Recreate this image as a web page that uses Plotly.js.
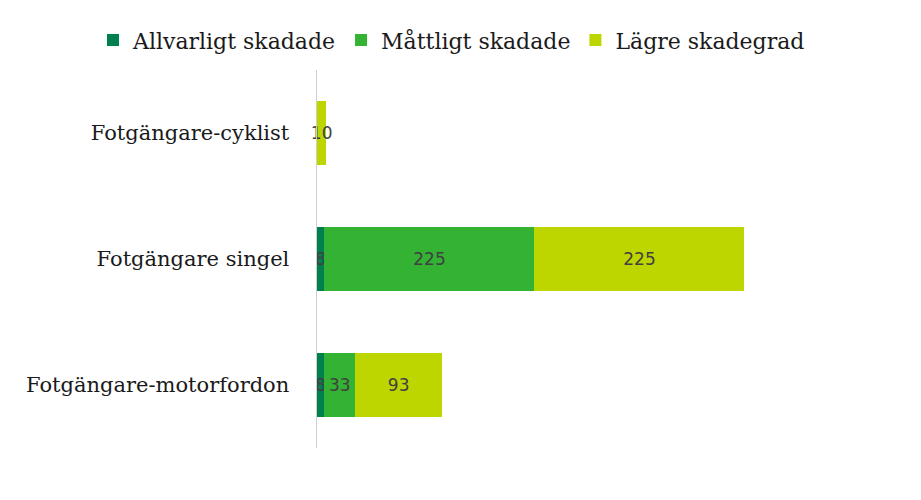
<!DOCTYPE html>
<html>
<head>
<meta charset="utf-8">
<script src="https://cdn.plot.ly/plotly-3.0.1.min.js"></script>
<style>html,body{margin:0;padding:0;background:#fff;}#chart{width:921px;height:500px;}</style>
</head>
<body>
<div id="chart"></div>
<script>
const categories = ["Fotgängare-cyklist", "Fotgängare singel", "Fotgängare-motorfordon"];
const seriesNames = ["Allvarligt skadade", "Måttligt skadade", "Lägre skadegrad"];
const allvarligt = [null, 8, 8];
const mattligt = [null, 225, 33];
const lagre = [10, 225, 93];
const colors = ["#00804F", "#33B233", "#BDD600"];

const values = [allvarligt, mattligt, lagre];
const traces = values.map((v, i) => ({
  type: "bar",
  orientation: "h",
  name: seriesNames[i],
  y: categories,
  x: v,
  marker: {color: colors[i]},
  text: v.map(d => d == null ? "" : String(d)),
  textposition: "inside",
  insidetextanchor: "middle",
  textangle: 0,
  constraintext: "none",
  textfont: {family: "DejaVu Sans", size: 17, color: "#404040"},
  hoverinfo: "none",
  cliponaxis: false
}));

const layout = {
  width: 921, height: 500,
  margin: {l: 317, r: 44, t: 70, b: 52},
  barmode: "stack",
  bargap: 0.49,
  paper_bgcolor: "#fff",
  plot_bgcolor: "#fff",
  showlegend: true,
  legend: {
    orientation: "h", x: -0.4, xanchor: "left", y: 1.079, yanchor: "middle",
    font: {family: "DejaVu Serif", size: 22, color: "#1a1a1a"},
    traceorder: "normal"
  },
  xaxis: {range: [0, 600], visible: false, fixedrange: true},
  yaxis: {
    autorange: "reversed",
    showline: true, linecolor: "#d0d0d0", linewidth: 1.5,
    ticks: "", ticklabelstandoff: 22,
    showgrid: false, zeroline: false,
    tickfont: {family: "DejaVu Serif", size: 21, color: "#1a1a1a"}
  }
};

Plotly.newPlot("chart", traces, layout, {displayModeBar: false, staticPlot: true});
</script>
</body>
</html>
